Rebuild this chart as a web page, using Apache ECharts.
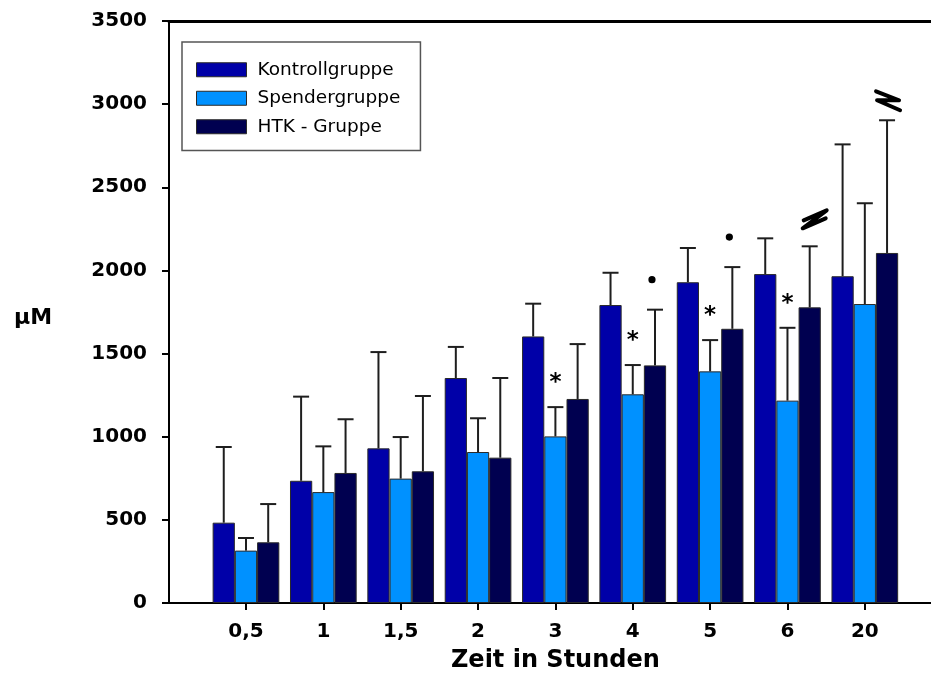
<!DOCTYPE html>
<html>
<head>
<meta charset="utf-8">
<script src="https://cdn.jsdelivr.net/npm/echarts@6/dist/echarts.min.js"></script>
<style>
  html, body { margin: 0; padding: 0; background: #fff; }
  #chart { width: 931px; height: 678px; }
</style>
</head>
<body>
<div id="chart"></div>
<script>
// Time points (hours)
const categories = ['0,5', '1', '1,5', '2', '3', '4', '5', '6', '20'];
const seriesNames = ['Kontrollgruppe', 'Spendergruppe', 'HTK - Gruppe'];

// Means (µM)
const kontrollMean = [483, 735, 930, 1353, 1603, 1792, 1929, 1978, 1965];
const spenderMean  = [315, 667, 748, 908, 1002, 1255, 1393, 1217, 1798];
const htkMean      = [365, 782, 792, 874, 1227, 1429, 1649, 1778, 2105];

// Standard deviations (µM), drawn upward only
const kontrollSd = [455, 506, 579, 187, 197, 194, 206, 215, 793];
const spenderSd  = [76, 275, 250, 203, 176, 176, 188, 438, 606];
const htkSd      = [230, 323, 453, 479, 330, 335, 371, 367, 798];

// Significance / axis-break annotations above the error bars
const kontrollMarks = ['', '', '', '', '', '', '', '', ''];
const spenderMarks  = ['', '', '', '', '*', '*', '*', '*', ''];
const htkMarks      = ['', '', '', '', '', 'dot', 'dot', 'breakA', 'breakB'];

// Y axis ticks
const yMin = 0, yMax = 3500, yStep = 500;

const colors = ['#0000a8', '#0091ff', '#000050'];
const CAT_GAP = 0.138;
const boldFont = 'DejaVu Sans';

const means = [kontrollMean, spenderMean, htkMean];
const sds = [kontrollSd, spenderSd, htkSd];
const marks = [kontrollMarks, spenderMarks, htkMarks];

function errorRenderer(groupIdx, markList) {
  return function (params, api) {
    const cat = api.value(0);
    const mean = api.value(1);
    const sd = api.value(2);
    const band = api.size([1, 0])[0];
    const barW = band * (1 - CAT_GAP) / 3;
    const x = api.coord([cat, 0])[0] + (groupIdx - 1) * barW;
    const yTop = api.coord([cat, mean])[1];
    const yHi = api.coord([cat, mean + sd])[1];
    const cap = 8;
    const stroke = { stroke: '#1e1e1e', lineWidth: 2 };
    const children = [
      { type: 'line', shape: { x1: x, y1: yTop, x2: x, y2: yHi }, style: stroke },
      { type: 'line', shape: { x1: x - cap, y1: yHi, x2: x + cap, y2: yHi }, style: stroke }
    ];
    const m = markList[params.dataIndex];
    if (m === '*') {
      children.push({
        type: 'text',
        style: { x: x, y: yHi - 24, text: '*', fill: '#000',
                 font: 'bold 23px "DejaVu Sans"', textAlign: 'center', textVerticalAlign: 'middle' }
      });
    } else if (m === 'dot') {
      children.push({
        type: 'circle', shape: { cx: x - 3, cy: yHi - 30, r: 3.6 }, style: { fill: '#000' }
      });
    } else if (m === 'breakA') {
      const cx = x + 5, cy = yHi - 27;
      children.push({
        type: 'polyline',
        shape: { points: [[cx - 11, cy + 1], [cx + 12, cy - 9], [cx - 12, cy + 9], [cx + 11, cy - 1]] },
        style: { stroke: '#000', lineWidth: 4, fill: null, lineCap: 'round', lineJoin: 'round' }
      });
    } else if (m === 'breakB') {
      const cx = x + 1, cy = yHi - 19;
      children.push({
        type: 'polyline',
        shape: { points: [[cx - 12, cy - 10], [cx + 11, cy - 1], [cx - 11, cy - 1], [cx + 12, cy + 9]] },
        style: { stroke: '#000', lineWidth: 4, fill: null, lineCap: 'round', lineJoin: 'round' }
      });
    }
    return { type: 'group', children: children };
  };
}

const barSeries = seriesNames.map((name, i) => ({
  name: name,
  type: 'bar',
  xAxisIndex: 1,
  yAxisIndex: 1,
  data: means[i],
  barGap: '0%',
  barCategoryGap: (CAT_GAP * 100) + '%',
  itemStyle: { color: colors[i], borderColor: '#2a2a2a', borderWidth: 1 },
  z: 2
}));

const errSeries = seriesNames.map((name, i) => ({
  name: name + ' SD',
  type: 'custom',
  xAxisIndex: 1,
  yAxisIndex: 1,
  renderItem: errorRenderer(i, marks[i]),
  data: means[i].map((v, k) => [k, v, sds[i][k]]),
  z: 3,
  silent: true
}));

const chart = echarts.init(document.getElementById('chart'), null, { renderer: 'canvas' });
chart.setOption({
  animation: false,
  backgroundColor: '#fff',
  color: colors,
  title: {
    text: 'µM',
    left: 14,
    top: 307,
    padding: 0,
    textStyle: { fontFamily: boldFont, fontWeight: 'bold', fontSize: 22, color: '#000' }
  },
  legend: {
    data: seriesNames.map(n => ({ name: n, icon: 'rect' })),
    orient: 'vertical',
    left: 182,
    top: 42,
    itemWidth: 50,
    itemHeight: 14,
    itemGap: 9,
    padding: [18, 20, 14, 14],
    borderColor: '#555',
    borderWidth: 1.5,
    backgroundColor: '#fff',
    itemStyle: { borderColor: '#2a2a2a', borderWidth: 1 },
    textStyle: { fontFamily: 'DejaVu Sans', fontSize: 18.5, lineHeight: 19.5, color: '#000', padding: [0, 0, 0, 6] }
  },
  grid: [
    { left: 169, right: 0, top: 21, bottom: 75 },
    { left: 207.3, right: 27.5, top: 21, bottom: 75 }
  ],
  xAxis: [
    {
      type: 'value', gridIndex: 0, min: 0, max: 1, position: 'bottom',
      axisLine: { show: true, lineStyle: { color: '#000', width: 2 } },
      axisTick: { show: false }, axisLabel: { show: false }, splitLine: { show: false }
    },
    {
      type: 'category', gridIndex: 1, data: categories,
      name: 'Zeit in Stunden', nameLocation: 'middle', nameGap: 46,
      nameTextStyle: { fontFamily: boldFont, fontWeight: 'bold', fontSize: 24, color: '#000' },
      axisLine: { show: false },
      axisTick: { show: true, alignWithLabel: true, length: 7, lineStyle: { color: '#000', width: 2 } },
      axisLabel: { fontFamily: boldFont, fontWeight: 'bold', fontSize: 20, color: '#000', margin: 19 },
      splitLine: { show: false }
    },
    {
      type: 'value', gridIndex: 0, min: 0, max: 1, position: 'top',
      axisLine: { show: true, lineStyle: { color: '#000', width: 3 } },
      axisTick: { show: false }, axisLabel: { show: false }, splitLine: { show: false }
    }
  ],
  yAxis: [
    {
      type: 'value', gridIndex: 0, min: yMin, max: yMax, interval: yStep,
      axisLine: { show: true, lineStyle: { color: '#000', width: 2 } },
      axisTick: { show: true, length: 7, lineStyle: { color: '#000', width: 2 } },
      axisLabel: {
        fontFamily: boldFont, fontWeight: 'bold', fontSize: 20, color: '#000', margin: 22,
        formatter: v => String(v)
      },
      splitLine: { show: false }
    },
    {
      type: 'value', gridIndex: 1, min: yMin, max: yMax, interval: yStep,
      show: false, splitLine: { show: false }
    }
  ],
  series: barSeries.concat(errSeries)
});
</script>
</body>
</html>
